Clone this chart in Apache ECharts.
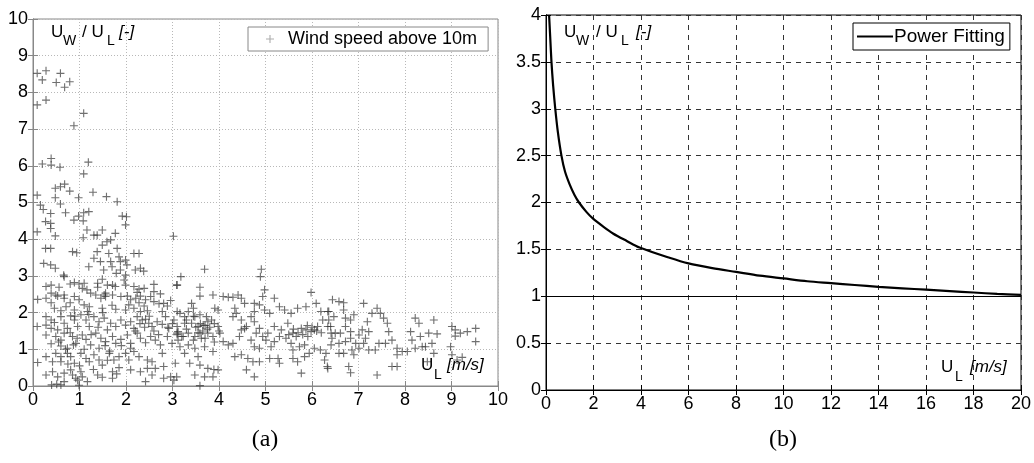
<!DOCTYPE html>
<html>
<head>
<meta charset="utf-8">
<script src="https://cdn.jsdelivr.net/npm/echarts@6/dist/echarts.min.js"></script>
<style>
  html, body { margin: 0; padding: 0; background: #fff; }
  #chart { width: 1034px; height: 463px; }
</style>
</head>
<body>
<div id="chart"></div>
<script>
// (a) wind speed samples, [U_L, U_W/U_L]
const windPoints = [
  [0.09,8.52],[0.28,8.59],[0.20,8.34],[0.59,8.52],[0.50,8.27],[0.68,8.14],[0.79,8.29],[0.09,7.66],[0.28,7.79],
  [1.09,7.43],[0.88,7.09],[0.20,6.05],[0.39,6.20],[0.39,6.02],[0.58,5.96],[1.19,6.10],[1.09,5.78],[0.48,5.39],
  [0.59,5.43],[0.68,5.50],[0.79,5.31],[1.29,5.28],[0.09,5.20],[0.48,5.13],[0.98,5.13],[1.58,5.16],
  [0.16,4.93],[0.22,4.81],[0.38,4.70],[0.27,4.48],[0.38,4.43],[0.38,4.29],[0.09,4.20],[0.48,4.09],[0.59,4.96],
  [0.70,4.72],[0.88,4.52],[0.98,4.63],[1.09,4.72],[1.20,4.75],[1.08,4.50],[1.16,4.25],[1.31,4.11],[1.38,4.11],
  [1.49,4.25],[1.59,3.93],[1.67,3.98],[1.77,4.16],[1.81,5.02],[1.92,4.63],[2.01,4.61],[1.99,4.39],[1.08,4.04],
  [1.38,3.66],[1.49,3.84],[1.63,3.61],[1.81,3.75],[1.85,3.52],[1.88,3.39],[1.99,3.43],[2.02,3.30],[2.17,3.61],
  [2.28,3.61],[2.20,3.16],[2.31,3.21],[2.38,3.13],[0.27,3.75],[0.38,3.75],[0.23,3.34],[0.38,3.30],[0.48,3.21],
  [0.85,3.66],[0.94,3.63],[1.20,3.25],[1.31,3.48],[1.45,3.39],[1.52,3.16],[1.70,3.25],[1.79,3.07],[1.88,3.16],
  [1.99,3.02],[1.67,3.39],[0.66,3.02],[3.02,4.08],[3.69,3.18],
  [0.28,2.71],[0.39,2.75],[0.56,2.69],[0.67,2.98],[0.80,2.78],[0.89,2.82],[0.99,2.78],[1.10,2.80],[1.06,2.66],
  [1.16,2.62],[1.39,2.80],[1.39,2.69],[1.49,2.91],[1.60,2.75],[1.71,2.75],[1.77,2.71],[1.96,2.89],[1.99,2.75],
  [2.17,2.71],[2.28,2.64],[2.39,2.66],[2.60,2.77],[2.60,2.57],[2.74,2.51],[3.10,2.75],[0.39,2.53],[0.49,2.48],
  [0.67,2.48],[1.24,2.53],[1.53,2.48],[1.56,2.53],[0.10,2.36],
  [0.28,2.39],[0.39,2.27],[0.53,2.45],[0.67,2.39],[0.80,2.27],[0.71,2.16],[0.89,2.44],[0.99,2.35],[1.10,2.21],
  [1.21,2.16],[1.35,2.48],[1.46,2.39],[1.56,2.44],[1.71,2.48],[1.89,2.44],[2.03,2.45],[2.10,2.35],[2.24,2.55],
  [2.21,2.39],[2.31,2.45],[2.42,2.35],[2.53,2.44],[2.06,2.21],[2.28,2.27],[2.39,2.18],[2.60,2.30],[2.71,2.24],
  [2.81,2.25],[2.89,2.18],[2.96,2.33],[0.46,2.12],[0.60,2.05],[0.89,2.07],[1.17,2.03],[1.49,2.12],[1.78,2.09],
  [1.99,2.07],[2.17,2.12],[2.46,2.05],[2.31,2.03],[2.78,2.03],[3.10,2.03],
  [0.28,1.89],[0.39,1.80],[0.46,1.73],[0.28,1.66],[0.39,1.57],[0.60,1.89],[0.67,1.71],[0.81,1.91],[0.89,1.80],
  [0.96,1.62],[1.03,1.94],[1.14,1.80],[1.21,1.62],[1.31,1.89],[1.42,1.75],[1.53,1.85],[1.67,1.71],[1.78,1.62],
  [1.89,1.80],[1.99,1.66],[2.10,1.75],[2.17,1.57],[2.24,1.89],[2.35,1.80],[2.42,1.82],[2.49,1.71],[2.56,1.62],
  [2.67,1.75],[2.78,1.68],[2.85,1.89],[2.92,1.57],[3.03,1.80],[3.10,1.62],[0.09,1.62],[0.74,1.57],[1.60,1.53],
  [0.53,1.53],
  [0.28,1.39],[0.49,1.35],[0.60,1.25],[0.67,1.44],[0.85,1.35],[0.92,1.16],[1.06,1.39],[1.14,1.27],[1.24,1.12],
  [1.35,1.44],[1.46,1.30],[1.56,1.21],[1.71,1.35],[1.78,1.16],[1.89,1.27],[2.03,1.39],[2.10,1.16],[2.24,1.44],
  [2.31,1.30],[2.42,1.18],[2.53,1.35],[2.63,1.25],[2.74,1.12],[2.89,1.35],[2.99,1.16],[3.10,1.44],[0.60,1.09],
  [0.39,1.15],[0.87,1.12],[0.74,1.03],[1.42,1.03],[2.10,1.03],
  [0.28,0.80],[0.49,0.89],[0.60,0.66],[0.74,0.89],[0.81,0.80],[0.89,0.62],[1.03,0.89],[1.14,0.75],[1.21,0.66],
  [1.31,0.85],[1.42,0.71],[1.49,0.57],[1.64,0.89],[1.74,0.71],[1.85,0.80],[1.99,0.89],[2.06,0.71],[2.17,0.94],
  [2.28,0.80],[2.46,0.71],[2.56,0.66],[2.78,0.89],[2.81,0.53],[3.06,0.62],[0.10,0.64],[0.42,0.66],
  [0.28,0.30],[0.42,0.39],[0.53,0.25],[0.67,0.35],[0.81,0.44],[0.85,0.30],[0.92,0.21],[1.03,0.39],[1.06,0.25],
  [1.17,0.12],[1.39,0.30],[1.49,0.24],[1.71,0.39],[1.80,0.33],[1.71,0.21],[2.10,0.44],[2.31,0.39],[2.42,0.12],
  [2.46,0.48],[2.63,0.48],[2.56,0.30],[2.81,0.21],[2.96,0.25],[3.03,0.16],[0.40,0.03],[0.51,0.05],[0.60,0.03],
  [0.99,0.02],[0.96,0.16],[0.67,0.12],
  [3.18,2.98],[3.09,2.75],[3.59,2.69],[3.59,2.45],[3.87,2.48],[3.41,2.25],[3.45,2.12],[3.34,2.03],[3.16,1.98],
  [3.26,1.89],[3.48,1.89],[3.59,1.94],[3.73,1.89],[3.84,1.80],[3.98,2.07],[3.91,2.12],[3.76,1.75],[3.66,1.66],
  [3.55,1.62],[3.41,1.71],[3.26,1.71],[3.12,1.48],[3.34,1.44],[3.48,1.35],[3.62,1.30],[3.59,1.44],[3.76,1.44],
  [3.87,1.35],[3.98,1.62],[4.02,1.44],[4.09,1.21],[4.20,1.12],[4.30,1.16],[3.16,1.07],[3.34,1.12],[3.48,1.03],
  [3.69,1.07],[3.87,0.94],[3.26,0.89],[3.55,0.80],[3.37,0.62],[3.59,0.57],[3.76,0.48],[3.89,0.45],[3.98,0.44],
  [3.48,0.30],[3.69,0.25],[3.87,0.25],[3.59,0.01],[3.09,0.25],[3.12,1.25],[3.23,1.35],
  [4.09,2.44],[4.20,2.42],[4.30,2.42],[4.41,2.48],[4.48,2.39],[4.55,2.25],[4.34,2.12],[4.37,1.98],[4.30,1.89],
  [4.48,1.80],[4.59,1.62],[4.69,1.89],[4.76,2.03],[4.76,2.25],[4.87,2.21],[4.91,3.18],[4.89,2.98],[4.98,2.62],
  [4.94,2.44],[4.98,2.07],[5.09,1.98],[5.19,2.39],[5.30,2.16],[5.41,2.07],[5.55,1.98],[5.69,2.12],[5.87,2.16],
  [5.98,2.55],[6.09,2.25],[6.19,2.03],[6.34,2.03],[6.44,2.35],
  [4.76,1.75],[4.87,1.57],[4.80,1.44],[4.94,1.35],[5.05,1.44],[5.19,1.62],[5.34,1.53],[5.48,1.71],[5.59,1.44],
  [5.66,1.35],[5.77,1.57],[5.87,1.53],[5.98,1.48],[6.05,1.53],[6.12,1.62],[6.23,1.80],[6.34,1.62],[6.41,1.44],
  [4.48,1.53],[4.55,1.57],[4.44,1.35],[4.69,1.25],[4.76,1.07],[4.87,1.03],[5.01,1.25],[5.12,1.07],[5.19,1.21],
  [5.30,1.35],[5.44,1.30],[5.55,1.16],[5.59,0.98],[5.73,1.07],[5.84,1.12],[5.91,1.35],[5.94,0.89],[6.05,1.03],
  [6.18,0.98],[6.30,0.89],[6.41,1.12],[4.34,0.80],[4.48,0.85],[4.62,0.75],[4.73,0.66],[4.59,0.44],[4.76,0.25],
  [4.87,0.66],[5.09,0.75],[5.27,0.75],[5.30,0.62],[5.59,0.75],[5.69,0.66],[5.84,0.80],[5.77,0.35],[6.27,0.71],
  [6.34,0.48],
  [6.36,2.03],[6.36,1.80],[6.40,1.62],[6.47,1.89],[6.68,2.27],[6.58,2.30],[6.68,2.07],[6.72,1.85],[6.83,1.80],
  [6.90,1.94],[6.72,1.62],[6.83,1.48],[6.61,1.44],[6.50,1.44],[6.43,1.30],[6.58,1.16],[6.72,1.21],[6.83,1.30],
  [6.94,1.16],[7.01,1.39],[7.08,1.53],[7.11,2.25],[7.19,1.75],[7.22,1.48],[7.15,1.30],[7.11,1.16],[7.29,1.98],
  [7.40,2.12],[7.47,1.98],[7.54,1.85],[7.62,1.71],[7.65,1.48],[7.58,1.16],[7.44,1.16],[7.36,0.98],[7.22,0.98],
  [7.01,1.03],[6.86,0.98],[6.68,0.89],[6.58,0.89],[6.90,0.85],[6.79,0.53],[6.83,0.36],[6.33,0.53],[7.40,0.30],
  [7.72,1.25],[7.83,1.03],[7.83,0.85],[7.94,0.94],[8.05,0.94],[8.12,1.48],[8.15,1.25],[8.22,1.85],[8.30,1.71],
  [8.22,1.03],[8.33,1.35],[8.44,1.07],[8.37,1.07],[8.51,1.44],[8.62,1.80],[8.58,1.16],[8.69,1.42],[8.62,0.89],
  [9.01,1.62],[9.08,1.53],[9.08,1.36],[9.19,1.44],[9.34,1.48],[9.52,1.57],[9.52,1.21],[8.98,1.07],[9.01,0.85],
  [9.12,0.71],[9.23,0.78],[8.48,0.66],[7.72,0.53],[7.83,0.53],
  [3.30,1.55],[3.50,1.60],[3.60,1.70],[3.70,1.65],[3.75,1.55],[3.80,1.60],[3.65,1.50],[3.55,1.45],[3.90,1.70],
  [4.00,1.50],[3.20,1.35],[3.45,1.25],[3.70,1.30],[3.90,1.20],[3.30,1.80],[3.45,1.90],[3.00,1.70],[3.10,1.40],
  [2.90,1.60],[2.60,1.50],[2.40,1.60],[2.50,1.90],[2.30,1.70],[2.20,1.50],[2.70,1.40],
  [5.60,1.55],[5.70,1.45],[5.80,1.40],[6.00,1.60],[6.10,1.50],[6.20,1.45],[5.90,1.65],[5.50,1.40],
  [0.55,1.20],[0.70,1.00],[0.80,1.45],[0.95,1.30],[1.10,1.00],[1.25,1.40],[1.40,1.60],[1.55,1.10],[1.65,0.95],
  [1.90,1.10],[0.60,0.80],[0.75,0.60],[1.00,0.55],[1.30,0.45],[1.60,0.70],[1.85,0.50],[0.90,1.90],[1.20,1.95],
  [1.50,2.00],[1.70,2.20]
];

// (b) power fitting curve
const fitX = [0.13, 0.18, 0.23, 0.30, 0.39, 0.50, 0.65, 0.80, 1.00, 1.20, 1.39, 1.70, 1.97, 2.40, 2.82, 3.40, 3.94,
  5.20, 6, 7, 8, 9, 10, 11, 12, 13, 14, 15, 16, 17, 18, 19, 20];
const fitY = [4.00, 3.75, 3.50, 3.25, 3.00, 2.75, 2.50, 2.33, 2.19, 2.08, 2.00, 1.90, 1.83, 1.745, 1.67, 1.59, 1.52,
  1.41, 1.35, 1.30, 1.26, 1.22, 1.19, 1.16, 1.14, 1.12, 1.10, 1.085, 1.07, 1.055, 1.04, 1.025, 1.015];

const leftTicks = { min: 0, max: 10, interval: 1 };
const rightXTicks = { min: 0, max: 20, interval: 2 };
const rightYTicks = { min: 0, max: 4, interval: 0.5 };

const FONT = '"Liberation Sans", Arial, sans-serif';
const plusPath = 'path://M4.3,0h1.4v4.3h4.3v1.4h-4.3v4.3h-1.4v-4.3h-4.3v-1.4h4.3z';

const chart = echarts.init(document.getElementById('chart'));

function axisBase(gridIndex, color, ticks, extra) {
  return Object.assign({
    type: 'value',
    gridIndex: gridIndex,
    min: ticks.min,
    max: ticks.max,
    interval: ticks.interval,
    axisLine: { show: true, lineStyle: { color: color, width: 1 } },
    axisTick: { show: true, inside: true, length: 5, lineStyle: { color: color } },
    axisLabel: { color: '#000', fontSize: 18, fontFamily: FONT, margin: 5 },
    splitLine: { show: false }
  }, extra);
}

// plain text piece, used for axis names with subscripts
function txt(x, y, text, size, italic) {
  return {
    type: 'text', x: x, y: y, z: 100,
    style: {
      text: text, fill: '#000',
      font: (italic ? 'italic ' : '') + size + 'px ' + FONT,
      verticalAlign: 'top'
    }
  };
}

const option = {
  animation: false,
  backgroundColor: '#fff',
  grid: [
    { left: 33, top: 19, width: 465, height: 367, show: true, borderColor: '#888', borderWidth: 1 },
    { left: 546, top: 15, width: 476, height: 375, show: true, borderColor: '#000', borderWidth: 1 }
  ],
  xAxis: [
    axisBase(0, '#888', leftTicks, {
      splitLine: { show: true, lineStyle: { color: '#b8b8b8', type: [1, 2] } }
    }),
    axisBase(0, '#888', leftTicks, { position: 'top', axisLabel: { show: false } }),
    axisBase(1, '#000', rightXTicks, {
      splitLine: { show: true, lineStyle: { color: '#333', type: [5, 5] } }
    }),
    axisBase(1, '#000', rightXTicks, { position: 'top', axisLabel: { show: false } })
  ],
  yAxis: [
    axisBase(0, '#888', leftTicks, {
      splitLine: { show: true, lineStyle: { color: '#b8b8b8', type: [1, 2] } }
    }),
    axisBase(0, '#888', leftTicks, { position: 'right', axisLabel: { show: false } }),
    axisBase(1, '#000', rightYTicks, {
      splitLine: { show: true, lineStyle: { color: '#333', type: [5, 5] } }
    }),
    axisBase(1, '#000', rightYTicks, { position: 'right', axisLabel: { show: false } })
  ],
  legend: [
    {
      data: [{ name: 'Wind speed above 10m', icon: plusPath }],
      left: 248, top: 27,
      padding: [3, 11, 3, 18],
      itemWidth: 8, itemHeight: 8,
      itemStyle: { color: '#999' },
      borderColor: '#888', borderWidth: 1,
      backgroundColor: '#fff',
      textStyle: { fontSize: 18, fontFamily: FONT, color: '#000', padding: [0, 0, 0, 9] }
    },
    {
      data: [{ name: 'Power Fitting', icon: 'rect' }],
      left: 853, top: 23,
      padding: [4, 5, 4, 4],
      itemWidth: 36, itemHeight: 2,
      itemStyle: { color: '#000' },
      borderColor: '#000', borderWidth: 1,
      backgroundColor: '#fff',
      textStyle: { fontSize: 19, fontFamily: FONT, color: '#000', padding: [0, 0, 0, -4] }
    }
  ],
  series: [
    {
      name: 'Wind speed above 10m',
      type: 'scatter',
      xAxisIndex: 0, yAxisIndex: 0,
      data: windPoints,
      symbol: plusPath,
      symbolSize: 8,
      itemStyle: { color: 'rgba(45,45,45,0.85)' }
    },
    {
      name: 'Power Fitting',
      type: 'line',
      xAxisIndex: 2, yAxisIndex: 2,
      data: fitX.map((x, i) => [x, fitY[i]]),
      showSymbol: false,
      symbol: 'none',
      smooth: 0.3,
      lineStyle: { color: '#000', width: 2.2 },
      itemStyle: { color: '#000' },
      markLine: {
        silent: true,
        symbol: 'none',
        label: { show: false },
        lineStyle: { color: '#000', type: 'solid', width: 1 },
        data: [{ yAxis: 1 }]
      }
    }
  ],
  graphic: [
    // (a) axis names
    txt(51, 24, 'U', 17), txt(63, 34, 'W', 14), txt(82, 24, '/ U', 17), txt(107, 34, 'L', 14),
    txt(119, 24, '[-]', 17, true),
    txt(421, 357, 'U', 17), txt(434, 368, 'L', 14), txt(447, 357, '[m/s]', 17, true),
    // (b) axis names
    txt(564, 24, 'U', 17), txt(576, 34, 'W', 14), txt(596, 24, '/ U', 17), txt(621, 34, 'L', 14),
    txt(636, 24, '[-]', 17, true),
    txt(941, 359, 'U', 17), txt(955, 370, 'L', 14), txt(970, 359, '[m/s]', 17, true),
    // panel captions
    {
      type: 'text', x: 265, y: 440,
      style: { text: '(a)', font: '24px "Liberation Serif", "Times New Roman", serif', fill: '#000', align: 'center', verticalAlign: 'middle' }
    },
    {
      type: 'text', x: 783, y: 440,
      style: { text: '(b)', font: '24px "Liberation Serif", "Times New Roman", serif', fill: '#000', align: 'center', verticalAlign: 'middle' }
    }
  ]
};

chart.setOption(option);
</script>
</body>
</html>
